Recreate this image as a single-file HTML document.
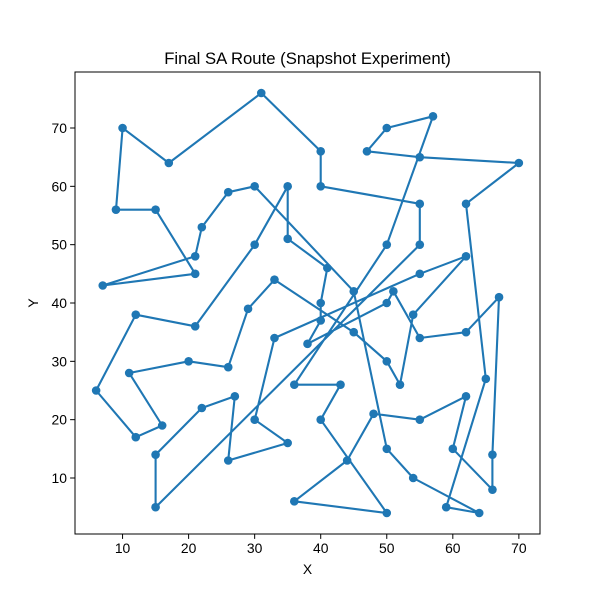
<!DOCTYPE html>
<html><head><meta charset="utf-8"><style>body{margin:0;background:#fff}svg{display:block;font-family:"Liberation Sans","DejaVu Sans",sans-serif}</style></head>
<body>
<svg id="chart" width="600" height="600" viewBox="0 0 600 600" xmlns="http://www.w3.org/2000/svg">
<rect width="600" height="600" fill="#fff"/>
<text x="307.5" y="64" text-anchor="middle" font-size="16.7" fill="#000">Final SA Route (Snapshot Experiment)</text>
<g id="plot"></g>
<rect x="75" y="72" width="465" height="462" fill="none" stroke="#000" stroke-width="1"/>
<g id="xt"></g><g id="yt"></g>
<text x="307.5" y="574" text-anchor="middle" font-size="13.9">X</text>
<text x="38" y="303" text-anchor="middle" font-size="13.9" transform="rotate(-90 38 303)">Y</text>
</svg>
<script>
const routeX=[55,55,40,40,31,17,10,9,15,21,7,21,22,26,30,45,50,54,64,59,65,62,70,55,47,50,57,50,36,43,40,50,36,44,48,55,62,60,66,66,67,62,55,51,50,38,40,40,41,35,35,30,21,12,6,12,16,11,20,26,29,33,45,50,52,54,62,55,33,30,35,26,27,22,15,15];
const routeY=[50,57,60,66,76,64,70,56,56,45,43,48,53,59,60,42,15,10,4,5,27,57,64,65,66,70,72,50,26,26,20,4,6,13,21,20,24,15,8,14,41,35,34,42,40,33,37,40,46,51,60,50,36,38,25,17,19,28,30,29,39,44,35,30,26,38,48,45,34,20,16,13,24,22,14,5];
const xTicks=[10,20,30,40,50,60,70];
const yTicks=[10,20,30,40,50,60,70];
const L=75,R=540,T=72,B=534,xmin=2.8,xmax=73.2,ymin=0.4,ymax=79.6;
const sx=v=>L+(v-xmin)/(xmax-xmin)*(R-L);
const sy=v=>B-(v-ymin)/(ymax-ymin)*(B-T);
const NS="http://www.w3.org/2000/svg";
const plot=document.getElementById('plot');
let pts=routeX.map((x,i)=>sx(x).toFixed(1)+','+sy(routeY[i]).toFixed(1));
pts.push(pts[0]);
const pl=document.createElementNS(NS,'polyline');
pl.setAttribute('points',pts.join(' '));
pl.setAttribute('fill','none');pl.setAttribute('stroke','#1f77b4');pl.setAttribute('stroke-width','2.1');pl.setAttribute('stroke-linejoin','round');


plot.appendChild(pl);
routeX.forEach((x,i)=>{const c=document.createElementNS(NS,'circle');
c.setAttribute('cx',sx(x));c.setAttribute('cy',sy(routeY[i]));c.setAttribute('r','4.3');c.setAttribute('fill','#1f77b4');


plot.appendChild(c);});
const xt=document.getElementById('xt');
xTicks.forEach(v=>{const x=sx(v);
const l=document.createElementNS(NS,'line');l.setAttribute('x1',x);l.setAttribute('x2',x);l.setAttribute('y1',B);l.setAttribute('y2',B+4.9);l.setAttribute('stroke','#000');


xt.appendChild(l);
const t=document.createElementNS(NS,'text');t.setAttribute('x',x);t.setAttribute('y',B+19);t.setAttribute('text-anchor','middle');t.setAttribute('font-size','13.9');t.textContent=v;


xt.appendChild(t);});
const yt=document.getElementById('yt');
yTicks.forEach(v=>{const y=sy(v);
const l=document.createElementNS(NS,'line');l.setAttribute('x1',L-4.9);l.setAttribute('x2',L);l.setAttribute('y1',y);l.setAttribute('y2',y);l.setAttribute('stroke','#000');


yt.appendChild(l);
const t=document.createElementNS(NS,'text');t.setAttribute('x',L-8);t.setAttribute('y',y+5);t.setAttribute('text-anchor','end');t.setAttribute('font-size','13.9');t.textContent=v;


yt.appendChild(t);});
</script>
</body></html>
